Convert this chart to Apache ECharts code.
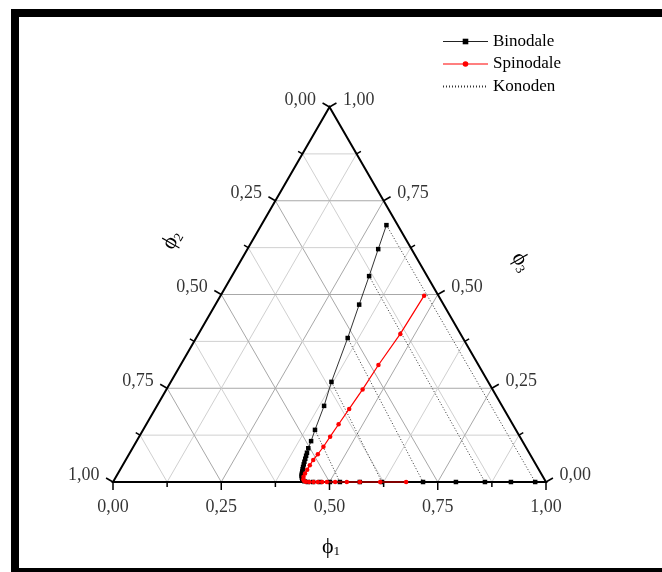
<!DOCTYPE html>
<html><head><meta charset="utf-8">
<script src="https://cdn.jsdelivr.net/npm/echarts@6/dist/echarts.min.js"></script>
<style>html,body{margin:0;padding:0;background:#fff}#c{width:662px;height:572px}</style>
</head><body><div id="c"></div>
<script>
// ---- data: compositions (phi1, phi3); phi2 = 1 - phi1 - phi3 ----
const binodalePhi1 = [0.289,0.302,0.317,0.332,0.350,0.371,0.386,0.397,0.403,0.406,0.409,0.411,0.413,0.415,0.417,0.419,0.421,0.423,0.425,0.427,0.430,0.433,0.437,0.441,
  0.450,0.462,0.478,0.501,0.524,0.570,0.621,0.716,0.792,0.859,0.919,0.975];
const binodalePhi3 = [0.685,0.621,0.549,0.473,0.384,0.267,0.203,0.139,0.109,0.090,0.078,0.070,0.062,0.054,0.047,0.040,0.034,0.028,0.022,0.017,0.012,0.008,0.004,0.002,
  0,0,0,0,0,0,0,0,0,0,0,0];
const spinodalePhi1 = [0.470,0.466,0.457,0.453,0.448,0.444,0.441,0.439,0.436,0.433,0.432,0.432,0.432,0.433,0.436,0.440,0.445,
  0.453,0.463,0.473,0.483,0.494,0.513,0.540,0.570,0.617,0.677];
const spinodalePhi3 = [0.497,0.395,0.312,0.247,0.195,0.154,0.121,0.094,0.074,0.059,0.045,0.033,0.023,0.014,0.007,0.003,0.001,
  0,0,0,0,0,0,0,0,0,0];
// tie lines (Konoden): start on the rising branch, end on the base branch
const konodenStartPhi1 = [0.289,0.317,0.350,0.371,0.397];
const konodenStartPhi3 = [0.685,0.549,0.384,0.267,0.139];
const konodenEndPhi1   = [0.975,0.859,0.716,0.621,0.524];
const konodenEndPhi3   = [0,0,0,0,0];
// axes
const tickValues  = [0,0.125,0.25,0.375,0.5,0.625,0.75,0.875,1];
const gridValues  = [0.125,0.25,0.375,0.5,0.625,0.75,0.875];
const labelValues = [0,0.25,0.5,0.75,1];
const tickLabels  = ['0,00','0,25','0,50','0,75','1,00'];

// ternary -> cartesian (x along base, y = height fraction)
function toXY(phi1, phi3){ return [phi1 + phi3/2, phi3]; }

const SERIF = '"Liberation Serif","Times New Roman",serif';
const chart = echarts.init(document.getElementById('c'), null, {renderer:'canvas'});

function seg(api, a, b, style){
  const p = api.coord(a), q = api.coord(b);
  return {type:'line', shape:{x1:p[0],y1:p[1],x2:q[0],y2:q[1]}, style:style};
}

const series = [];
// grid lines
series.push({
  type:'custom', silent:true, z:1, clip:false,
  data: gridValues.map(v=>[v,0]),
  renderItem(params, api){
    const v = api.value(0);
    const major = Math.abs(v*4 - Math.round(v*4)) < 1e-6;
    const st = {stroke: major ? '#a8a8a8' : '#d0d0d0', lineWidth:1};
    return {type:'group', children:[
      seg(api, toXY(0,v), toXY(1-v,v), st),
      seg(api, toXY(v,0), toXY(v,1-v), st),
      seg(api, toXY(1-v,0), toXY(0,1-v), st)
    ]};
  }
});
// triangle edges
series.push({
  type:'custom', silent:true, z:3, clip:false,
  data:[[0,0]],
  renderItem(params, api){
    const pts = [toXY(0,0), toXY(1,0), toXY(0,1)].map(p=>api.coord(p));
    return {type:'polygon', shape:{points:pts}, style:{fill:'none', stroke:'#000', lineWidth:2}};
  }
});
// ticks
series.push({
  type:'custom', silent:true, z:3, clip:false,
  data: tickValues.map(v=>[v,0]),
  renderItem(params, api){
    const v = api.value(0);
    const major = Math.abs(v*4 - Math.round(v*4)) < 1e-6;
    const L = major ? 8 : 5;
    const st = {stroke:'#000', lineWidth:1.5};
    const pb = api.coord(toXY(v,0));
    const pl = api.coord(toXY(0,1-v));
    const pr = api.coord(toXY(1-v,v));
    return {type:'group', children:[
      {type:'line', shape:{x1:pb[0],y1:pb[1],x2:pb[0],y2:pb[1]+L}, style:st},
      {type:'line', shape:{x1:pl[0],y1:pl[1],x2:pl[0]-0.866*L,y2:pl[1]-0.5*L}, style:st},
      {type:'line', shape:{x1:pr[0],y1:pr[1],x2:pr[0]+0.866*L,y2:pr[1]-0.5*L}, style:st}
    ]};
  }
});
// tick labels
const lblStyle = {show:true, fontFamily:SERIF, fontSize:18, color:'#000'};
series.push({
  type:'scatter', silent:true, symbolSize:1, itemStyle:{color:'transparent'}, z:4,
  data: labelValues.map((v,i)=>({value: toXY(v,0), label:{formatter: tickLabels[i]}})),
  label: Object.assign({position:'bottom', distance:16}, lblStyle)
});
series.push({
  type:'scatter', silent:true, symbolSize:1, itemStyle:{color:'transparent'}, z:4,
  data: labelValues.map((v,i)=>({value: toXY(0,1-v), label:{formatter: tickLabels[i]}})),
  label: Object.assign({position:'left', distance:13, offset:[0,-7]}, lblStyle)
});
series.push({
  type:'scatter', silent:true, symbolSize:1, itemStyle:{color:'transparent'}, z:4,
  data: labelValues.map((v,i)=>({value: toXY(1-v,v), label:{formatter: tickLabels[i]}})),
  label: Object.assign({position:'right', distance:13, offset:[0,-7]}, lblStyle)
});
// tie lines
for (let i=0;i<konodenStartPhi1.length;i++){
  series.push({
    type:'line', name:'Konoden', z:5, clip:false, symbol:'none', silent:true,
    color:'#333',
    lineStyle:{color:'#333', width:1, type:[1,2]},
    data:[toXY(konodenStartPhi1[i],konodenStartPhi3[i]), toXY(konodenEndPhi1[i],konodenEndPhi3[i])]
  });
}
series.push({
  type:'line', name:'Binodale', z:6, clip:false, showAllSymbol:true,
  symbol:'rect', symbolSize:4.5, color:'#000',
  itemStyle:{color:'#000'}, lineStyle:{color:'#000', width:0.8},
  data: binodalePhi1.map((p,i)=>toXY(p, binodalePhi3[i]))
});
series.push({
  type:'line', name:'Spinodale', z:7, clip:false, showAllSymbol:true,
  symbol:'circle', symbolSize:4.5, color:'#ff0000',
  itemStyle:{color:'#ff0000'}, lineStyle:{color:'#ff0000', width:1.2},
  data: spinodalePhi1.map((p,i)=>toXY(p, spinodalePhi3[i]))
});

const rich = {
  p:{fontFamily:SERIF, fontSize:22, color:'#000'},
  s:{fontFamily:SERIF, fontSize:13, color:'#000', padding:[10,0,0,0], verticalAlign:'bottom'}
};

chart.setOption({
  backgroundColor:'#fff',
  animation:false,
  grid:{left:113, top:107, width:433, height:375},
  xAxis:{type:'value', min:0, max:1, show:false},
  yAxis:{type:'value', min:0, max:1, show:false},
  legend:{
    orient:'vertical', left:442, top:33, padding:0, itemWidth:45, itemHeight:7, itemGap:5.5,
    data:[
      {name:'Binodale', lineStyle:{width:1, color:'#222'}},
      {name:'Spinodale', lineStyle:{width:1.2}},
      {name:'Konoden', itemStyle:{color:'transparent', opacity:0}}
    ],
    textStyle:{fontFamily:SERIF, fontSize:17, color:'#000', lineHeight:16}
  },
  graphic:[
    {type:'rect', silent:true, shape:{x:15, y:13, width:700, height:559}, style:{fill:'none', stroke:'#000', lineWidth:8}},
    {type:'text', silent:true, x:331, y:547, style:{text:'{p|ϕ}{s|1}', rich:rich, align:'center', verticalAlign:'middle'}},
    {type:'text', silent:true, x:172, y:240, rotation:Math.PI/3, style:{text:'{p|ϕ}{s|2}', rich:rich, align:'center', verticalAlign:'middle'}},
    {type:'text', silent:true, x:521, y:262, rotation:-Math.PI/3, style:{text:'{p|ϕ}{s|3}', rich:rich, align:'center', verticalAlign:'middle'}}
  ],
  series: series
});
</script></body></html>
